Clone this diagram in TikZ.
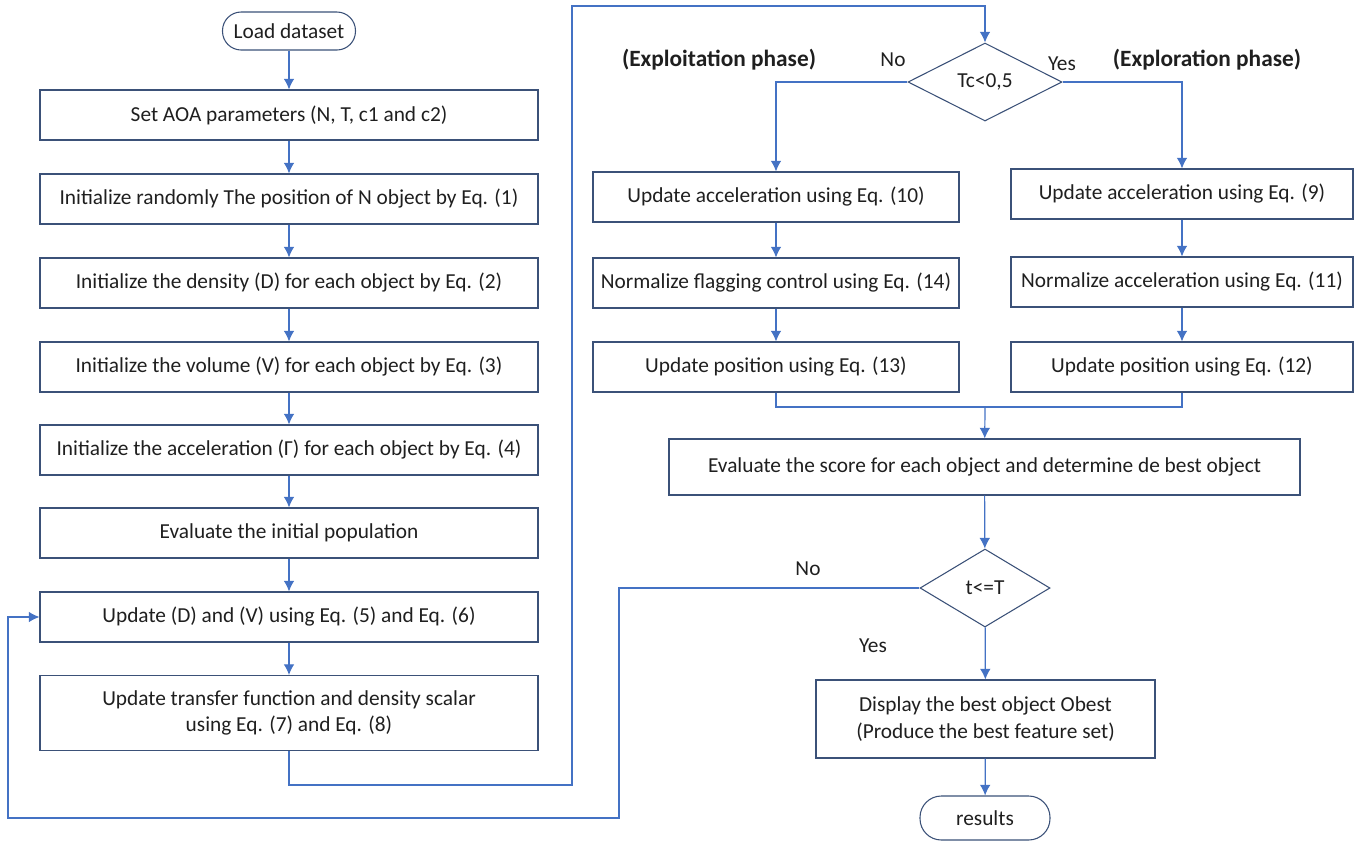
\documentclass[tikz,border=0pt]{standalone}
\usepackage{fontspec}
\setmainfont{Carlito}
\usetikzlibrary{positioning, arrows.meta, shapes.geometric}
\definecolor{boxc}{HTML}{3B5178}
\definecolor{arrc}{HTML}{4472C4}
\definecolor{txtc}{HTML}{1F1F1F}

\begin{document}
\begin{tikzpicture}
[
    x=0.75pt, y=-0.75pt, % coordinates are given in pixels of the reference
    font=\fontsize{16}{20}\selectfont, text=txtc
]

%=================================== Start ===================================
\tikzstyle{box}  = [draw=boxc, line width=0.8pt, align=center, inner sep=0pt,
                    minimum height=37.5pt]
\tikzstyle{lbox} = [box, minimum width=373.5pt]
\tikzstyle{mbox} = [box, minimum width=274.5pt]
\tikzstyle{rbox} = [box, minimum width=256.5pt]
\tikzstyle{term} = [draw=boxc, line width=0.8pt, rounded corners=14pt, inner sep=0pt]
\tikzstyle{dec}  = [draw=boxc, line width=0.8pt, diamond, inner sep=0pt]
\tikzstyle{phase}= [font=\fontsize{17.5}{20}\selectfont\bfseries]
\tikzstyle{arr}  = [draw=arrc, line width=0.9pt, -{Latex[length=8pt, width=8pt]}]
\tikzstyle{lin}  = [draw=arrc, line width=0.9pt]

\useasboundingbox (0,0) rectangle (1372,844);

% left column: L-0 ... L-8
\node[term, minimum width=99.75pt, minimum height=28.5pt] (L-0) at (289,31) {Load dataset};
\foreach \y / \i / \txt in {
    115/1/{Set AOA parameters (N, T, c1 and c2)},
    199/2/{Initialize randomly The position of N object by Eq. (1)},
    283/3/{Initialize the density (D) for each object by Eq. (2)},
    367/4/{Initialize the volume (V) for each object by Eq. (3)},
    450/5/{Initialize the acceleration (Γ) for each object by Eq. (4)},
    533/6/{Evaluate the initial population},
    617/7/{Update (D) and (V) using Eq. (5) and Eq. (6)}}
    \node[lbox] (L-\i) at (289,\y) {\txt};
\node[lbox, minimum height=56.25pt] (L-8) at (289,713)
    {Update transfer function and density scalar\\using Eq. (7) and Eq. (8)};

% first decision and the two phases
\node[dec, minimum width=115.5pt, minimum height=58.5pt] (D-1) at (985,82) {Tc<0,5};
\node[phase] (P-l) at (719,60) {(Exploitation phase)};
\node[phase] (P-r) at (1207,60) {(Exploration phase)};
\node (No-1)  at (893,60) {No};
\node (Yes-1) at (1062,64) {Yes};

% exploitation column: M-1 ... M-3
\foreach \y / \i / \txt in {
    197/1/{Update acceleration using Eq. (10)},
    283/2/{Normalize flagging control using Eq. (14)},
    367/3/{Update position using Eq. (13)}}
    \node[mbox] (M-\i) at (776,\y) {\txt};
% exploration column: R-1 ... R-3
\foreach \y / \i / \txt in {
    194/1/{Update acceleration using Eq. (9)},
    282/2/{Normalize acceleration using Eq. (11)},
    367/3/{Update position using Eq. (12)}}
    \node[rbox] (R-\i) at (1182,\y) {\txt};

% evaluation, stop test and output
\node[box, minimum width=473.25pt, minimum height=42pt] (E) at (984.5,467)
    {Evaluate the score for each object and determine de best object};
\node[dec, minimum width=97.5pt, minimum height=58.5pt] (D-2) at (985,588) {t<=T};
\node (No-2)  at (808,569) {No};
\node (Yes-2) at (873,646) {Yes};
\node[box, minimum width=254.25pt, minimum height=58.5pt] (Disp) at (985.5,719)
    {Display the best object Obest\\(Produce the best feature set)};
\node[term, minimum width=97.5pt, minimum height=33pt, rounded corners=16pt] (Res) at (985,818) {results};

% helper corners of the long connectors
\coordinate (J-1) at (572,785);
\coordinate (J-2) at (572,6);
\coordinate (J-3) at (985,407);
\coordinate (J-4) at (619,818);
\coordinate (J-5) at (8,818);

% connectors
\foreach \a / \b in {0/1, 1/2, 2/3, 3/4, 4/5, 5/6, 6/7, 7/8}
    \draw[arr] (L-\a) -- (L-\b);
\draw[arr] (L-8.south) |- (J-1) -- (J-2) -| (D-1.north);
\draw[arr] (D-1.west) -| (M-1.north);
\draw[arr] (D-1.east) -| (R-1.north);
\foreach \a / \b in {1/2, 2/3} {
    \draw[arr] (M-\a) -- (M-\b);
    \draw[arr] (R-\a) -- (R-\b);
}
\draw[lin] (M-3.south) |- (J-3) -| (R-3.south);
\draw[arr] (J-3) -- (E);
\draw[arr] (E) -- (D-2);
\draw[arr] (D-2) -- (Disp);
\draw[arr] (Disp) -- (Res);
\draw[arr] (D-2.west) -| (J-4) -- (J-5) |- (L-7.west);
%==================================== END ====================================

\end{tikzpicture}
\end{document}
